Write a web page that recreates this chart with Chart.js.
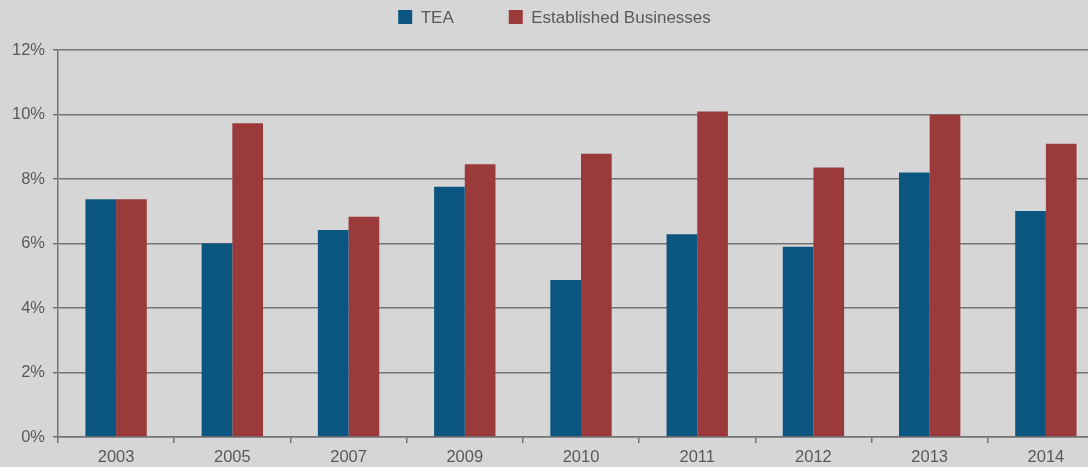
<!DOCTYPE html>
<html>
<head>
<meta charset="utf-8">
<script src="https://cdn.jsdelivr.net/npm/chart.js@4/dist/chart.umd.min.js"></script>
<style>
  html, body { margin: 0; padding: 0; width: 1088px; height: 467px; overflow: hidden; background: #d6d6d6; }
  #wrap { position: absolute; left: 0; top: 0; width: 1110px; height: 467px; }
  canvas { display: block; }
</style>
</head>
<body>
<div id="wrap"><canvas id="c" width="1110" height="467"></canvas></div>
<script>
const categories = ['2003', '2005', '2007', '2009', '2010', '2011', '2012', '2013', '2014'];
const teaValues = [7.37, 6.0, 6.42, 7.76, 4.87, 6.29, 5.9, 8.2, 7.01];
const establishedValues = [7.37, 9.73, 6.83, 8.46, 8.78, 10.09, 8.36, 9.99, 9.09];
const seriesLabels = ['TEA', 'Established Businesses'];
const yTicks = [0, 2, 4, 6, 8, 10, 12];

const textColor = '#595959';
const gridColor = '#747474';
const fontFamily = '"Liberation Sans", Arial, Helvetica, sans-serif';

const legendPlugin = {
  id: 'customLegend',
  afterDraw(chart) {
    const ctx = chart.ctx;
    const size = 17;
    ctx.save();
    ctx.font = size + 'px ' + fontFamily;
    ctx.textBaseline = 'middle';
    ctx.textAlign = 'left';
    const box = 14, gap = 55;
    const items = chart.data.datasets.map(d => ({ text: d.label, color: d.backgroundColor, w: box + size / 2 + ctx.measureText(d.label).width }));
    const total = items.reduce((s, it) => s + it.w, 0) + gap * (items.length - 1);
    let x = 554.5 - total / 2;
    const yMid = 18;
    items.forEach(it => {
      ctx.fillStyle = it.color;
      ctx.fillRect(x, yMid - box / 2 - 1, box, box);
      ctx.fillStyle = textColor;
      ctx.fillText(it.text, x + box + size / 2, yMid);
      x += it.w + gap;
    });
    ctx.restore();
  }
};

new Chart(document.getElementById('c'), {
  type: 'bar',
  data: {
    labels: categories,
    datasets: [
      { label: seriesLabels[0], data: teaValues, backgroundColor: '#0b5681', borderWidth: 0 },
      { label: seriesLabels[1], data: establishedValues, backgroundColor: '#9b3a3a', borderWidth: 0 }
    ]
  },
  options: {
    responsive: false,
    devicePixelRatio: 1,
    animation: false,
    layout: { padding: { top: 50, right: 6, left: 0, bottom: 0 } },
    plugins: { legend: { display: false }, tooltip: { enabled: false } },
    datasets: { bar: { categoryPercentage: 0.528, barPercentage: 1.0 } },
    scales: {
      x: {
        offset: true,
        afterFit: s => { s.height = 30; },
        grid: { offset: true, drawOnChartArea: false, drawTicks: true, tickLength: 6, color: gridColor, lineWidth: 1.5 },
        border: { display: true, color: gridColor, width: 1.5 },
        ticks: { color: textColor, font: { family: fontFamily, size: 16.5 }, padding: 5, maxRotation: 0 }
      },
      y: {
        min: 0,
        max: 12,
        afterFit: s => { s.width = 58; },
        afterBuildTicks: s => { s.ticks = yTicks.map(v => ({ value: v })); },
        grid: { color: gridColor, lineWidth: 1.5, drawTicks: true, tickLength: 5 },
        border: { display: true, color: gridColor, width: 1.5 },
        ticks: { color: textColor, font: { family: fontFamily, size: 16.5 }, padding: 8, callback: v => v + '%' }
      }
    }
  },
  plugins: [legendPlugin]
});
</script>
</body>
</html>
